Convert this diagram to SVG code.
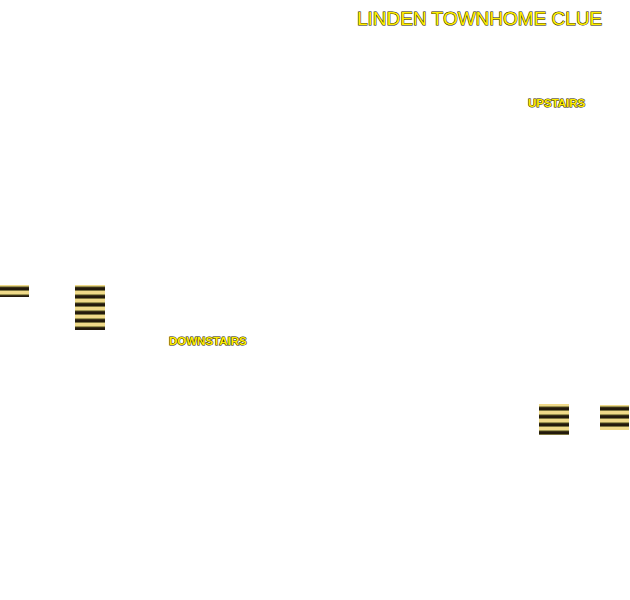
<svg xmlns="http://www.w3.org/2000/svg" width="630" height="600" viewBox="0 0 630 600">
<style>
.t{font-family:"Liberation Sans",Arial,sans-serif;fill:#ffee00;stroke:#1a1400;stroke-width:1;paint-order:stroke}
.title{font-size:19px}
.lbl{font-size:11.5px;font-weight:bold}
.st{fill:url(#stripes)}
</style>
<defs>
<pattern id="stripes" patternUnits="userSpaceOnUse" width="8" height="8">
<rect width="8" height="8" fill="#f0da8a"/>
<rect y="0" width="8" height="2" fill="#231a0c"/>
<rect y="2" width="8" height="1" fill="#7c7440"/>
<rect y="6" width="8" height="1" fill="#9c9450"/>
<rect y="7" width="8" height="1" fill="#3a3018"/>
</pattern>
</defs>
<rect width="630" height="600" fill="#ffffff"/>
<g id="title"><text class="t title" x="357" y="25">LINDEN TOWNHOME CLUE</text></g>
<g id="upstairs"><text class="t lbl" x="528" y="107">UPSTAIRS</text></g>
<g id="downstairs"><text class="t lbl" x="169" y="345">DOWNSTAIRS</text></g>
<g id="stairs">
<rect class="st" x="0" y="285" width="29" height="12"/>
<rect class="st" x="75" y="285" width="30" height="45"/>
<rect class="st" x="539" y="404" width="30" height="31"/>
<rect class="st" x="600" y="405" width="29" height="25"/>
</g>
</svg>
